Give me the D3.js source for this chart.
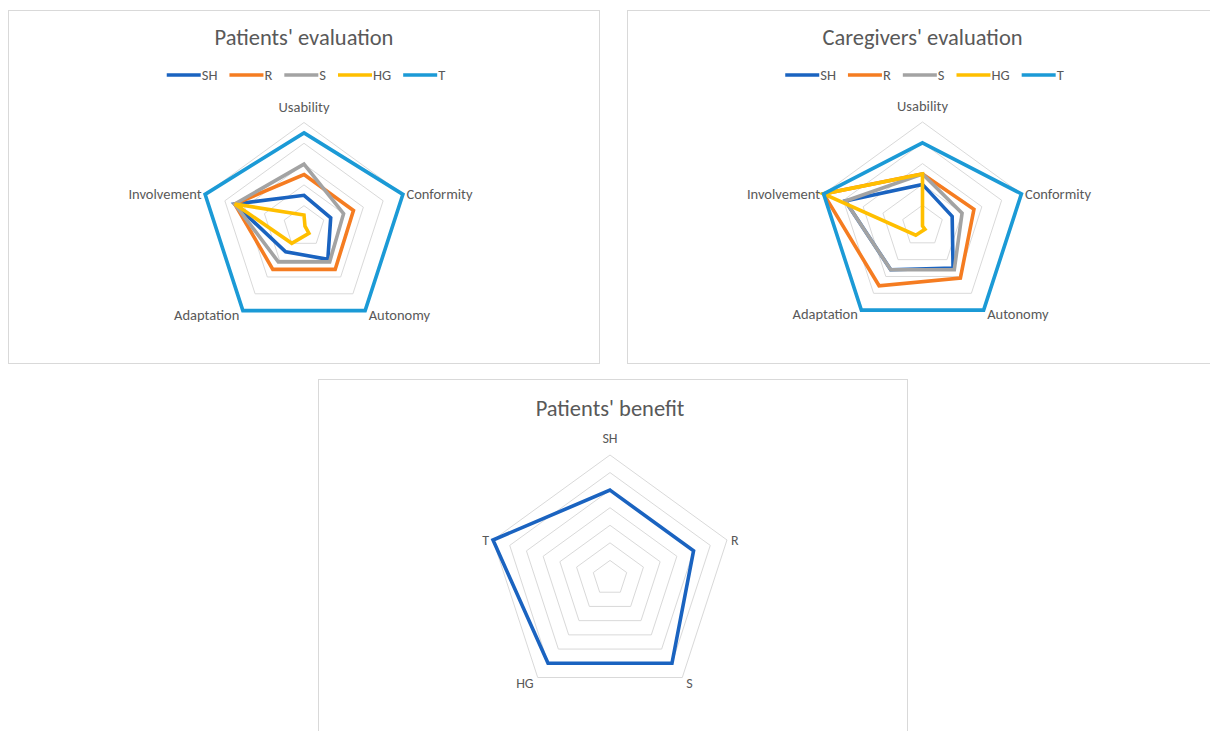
<!DOCTYPE html>
<head>
  <meta charset="utf-8">
  <script src="https://d3js.org/d3.v7.min.js"></script>
  <style>
    body { margin: 0; background: #fff; }
    text { font-family: Carlito, Calibri, "Noto Sans", sans-serif; fill: #595959; }
  </style>
</head>
<body>
  <script>
    // data
    var seriesNames = ["SH", "R", "S", "HG", "T"];
    var seriesColors = ["#1a63c0", "#f57c21", "#a3a3a3", "#ffbf00", "#1b9ad6"];
    var evalAxes = ["Usability", "Conformity", "Autonomy", "Adaptation", "Involvement"];

    var patientsSH = [1.5, 1.35, 1.95, 1.5, 3.5];
    var patientsR  = [2.5, 2.5, 2.55, 2.55, 3.5];
    var patientsS  = [3.0, 2.0, 2.1, 2.1, 3.5];
    var patientsHG = [0.55, 0.05, 0.4, 1.0, 3.5];
    var patientsT  = [4.5, 5, 5, 5, 5];

    var caregiversSH = [2.0, 1.5, 2.5, 2.6, 3.9];
    var caregiversR  = [2.5, 2.6, 3.1, 3.55, 5];
    var caregiversS  = [2.5, 2.0, 2.6, 2.6, 3.9];
    var caregiversHG = [2.5, 0, 0.2, 0.55, 5];
    var caregiversT  = [4.0, 5, 5, 5, 5];

    var benefitAxes = ["SH", "R", "S", "HG", "T"];
    var benefitValues = [5, 5, 6, 6, 7];

    var evalTicks = [1, 2, 3, 4, 5];
    var benefitTicks = [1, 2, 3, 4, 5, 6, 7];

    var svg = d3.select("body").append("svg")
      .attr("width", 1210)
      .attr("height", 731);

    // panel frames
    var frames = [[8, 10, 591, 353], [627, 10, 591, 353], [318, 379, 589, 360]];
    svg.selectAll("rect.frame").data(frames)
      .enter().append("rect")
        .attr("class", "frame")
        .attr("x", function(d) { return d[0] + 0.5; })
        .attr("y", function(d) { return d[1] + 0.5; })
        .attr("width", function(d) { return d[2]; })
        .attr("height", function(d) { return d[3]; })
        .attr("fill", "#fff")
        .attr("stroke", "#d9d9d9");

    function radar(opt) {
      var g = svg.append("g").attr("transform", "translate(" + opt.cx + "," + opt.cy + ")");
      var n = opt.axes.length;
      var r = d3.scaleLinear().domain([0, d3.max(opt.ticks)]).range([0, opt.radius]);
      var angle = function(i) { return i * 2 * Math.PI / n; };
      var px = function(v, i) { return r(v) * Math.sin(angle(i)); };
      var py = function(v, i) { return -r(v) * Math.cos(angle(i)); };

      var ring = d3.line().curve(d3.curveLinearClosed);

      // grid
      g.selectAll("path.grid").data(opt.ticks)
        .enter().append("path")
          .attr("class", "grid")
          .attr("d", function(t) {
            return ring(opt.axes.map(function(a, i) { return [px(t, i), py(t, i)]; }));
          })
          .attr("fill", "none")
          .attr("stroke", "#d9d9d9")
          .attr("stroke-width", 1);

      // series
      g.selectAll("path.series").data(opt.series)
        .enter().append("path")
          .attr("class", "series")
          .attr("d", function(s) {
            return ring(s.values.map(function(v, i) { return [px(v, i), py(v, i)]; }));
          })
          .attr("fill", "none")
          .attr("stroke", function(s) { return s.color; })
          .attr("stroke-width", 3.6)
          .attr("stroke-linejoin", "miter");

      // axis labels
      var maxT = d3.max(opt.ticks);
      g.selectAll("text.axis").data(opt.axes)
        .enter().append("text")
          .attr("class", "axis")
          .attr("x", function(a, i) {
            var x = px(maxT, i), s = Math.sin(angle(i));
            return x + (Math.abs(s) < 0.01 ? 0 : (s > 0 ? opt.pad : -opt.pad));
          })
          .attr("y", function(a, i) {
            var c = Math.cos(angle(i));
            if (c > 0.99) return py(maxT, i) - opt.topGap;
            if (c < 0) return py(maxT, i) + opt.bottomGap;
            return py(maxT, i) + 5;
          })
          .attr("text-anchor", function(a, i) {
            var s = Math.sin(angle(i));
            return Math.abs(s) < 0.01 ? "middle" : (s > 0 ? "start" : "end");
          })
          .style("font-size", opt.labelSize + "px")
          .text(function(a) { return a; });

      // title
      svg.append("text")
        .attr("x", opt.cx)
        .attr("y", opt.titleY)
        .attr("text-anchor", "middle")
        .style("font-size", "22.5px")
        .text(opt.title);

      // legend
      if (opt.legend) {
        var lg = svg.append("g");
        var xpos = 0;
        opt.series.forEach(function(s) {
          var item = lg.append("g").attr("transform", "translate(" + xpos + ",0)");
          item.append("line")
            .attr("x1", 0).attr("x2", 34)
            .attr("y1", 0).attr("y2", 0)
            .attr("stroke", s.color)
            .attr("stroke-width", 3.6);
          var t = item.append("text")
            .attr("x", 35).attr("y", 5)
            .style("font-size", "14.5px")
            .text(s.name);
          xpos += 35 + t.node().getComputedTextLength() + 12;
        });
        xpos -= 12;
        lg.attr("transform", "translate(" + (opt.cx + 2 - xpos / 2) + "," + opt.legendY + ")");
      }
    }

    function build(arrs) {
      return seriesNames.map(function(name, k) {
        return {name: name, color: seriesColors[k], values: arrs[k]};
      });
    }

    radar({
      cx: 304, cy: 226.5, radius: 104, axes: evalAxes, ticks: evalTicks,
      series: build([patientsSH, patientsR, patientsS, patientsHG, patientsT]),
      title: "Patients' evaluation", titleY: 45, legend: true, legendY: 75,
      pad: 3.5, labelSize: 14.5, topGap: 11, bottomGap: 9
    });

    radar({
      cx: 922.5, cy: 226, radius: 104, axes: evalAxes, ticks: evalTicks,
      series: build([caregiversSH, caregiversR, caregiversS, caregiversHG, caregiversT]),
      title: "Caregivers' evaluation", titleY: 45, legend: true, legendY: 75,
      pad: 3.5, labelSize: 14.5, topGap: 11, bottomGap: 9
    });

    radar({
      cx: 610, cy: 578, radius: 123, axes: benefitAxes, ticks: benefitTicks,
      series: [{name: "Benefit", color: seriesColors[0], values: benefitValues}],
      title: "Patients' benefit", titleY: 416, legend: false,
      pad: 4, labelSize: 14, topGap: 12, bottomGap: 10
    });
  </script>
</body>
